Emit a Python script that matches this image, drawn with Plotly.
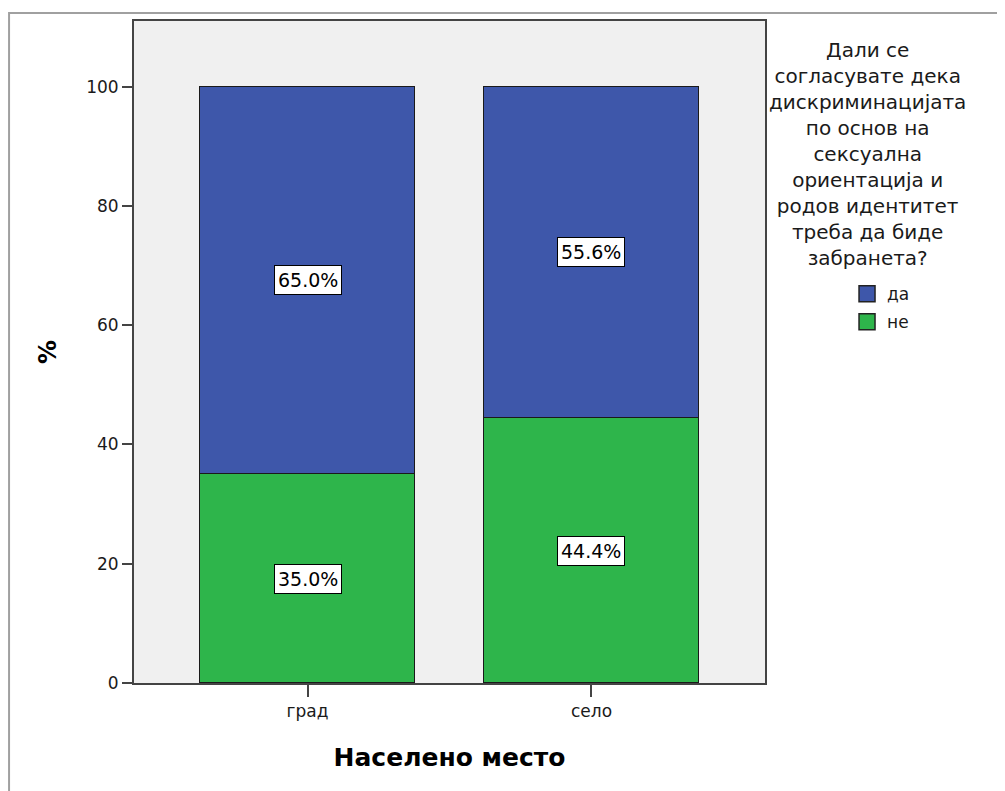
import plotly.graph_objects as go

categories = ["град", "село"]
series_names = ["да", "не"]
values_da = [65.0, 55.6]
values_ne = [35.0, 44.4]
y_ticks = [0, 20, 40, 60, 80, 100]
legend_title = ("Дали се<br>согласувате дека<br>дискриминацијата<br>по основ на<br>сексуална"
                "<br>ориентација и<br>родов идентитет<br>треба да биде<br>забранета?")
x_title = "Населено место"
y_title = "%"

BLUE = "#3e57aa"
GREEN = "#2eb54b"
FONT = "DejaVu Sans, Liberation Sans, Arial, sans-serif"
TXT = "#1a1a1a"

xpos = list(range(len(categories)))

fig = go.Figure()
fig.add_trace(go.Bar(x=xpos, y=values_ne, name=series_names[1],
                     marker=dict(color=GREEN, line=dict(color="#1a1a1a", width=1.2)),
                     width=0.757, showlegend=False))
fig.add_trace(go.Bar(x=xpos, y=values_da, name=series_names[0],
                     marker=dict(color=BLUE, line=dict(color="#1a1a1a", width=1.2)),
                     width=0.757, showlegend=False))

# legend entries
for name, col in [(series_names[0], BLUE), (series_names[1], GREEN)]:
    fig.add_trace(go.Scatter(x=[None], y=[None], mode="markers", name=name, legendgroup=name,
                             marker=dict(symbol="square", size=16, color=col,
                                         line=dict(color="#222", width=1.5))))

annotations = []
for i in range(len(categories)):
    ne = values_ne[i]
    da = values_da[i]
    for yv, v in [(ne / 2, ne), (ne + da / 2, da)]:
        annotations.append(dict(x=i, y=yv, xref="x", yref="y", text=f"{v:.1f}%", showarrow=False,
                                font=dict(family=FONT, size=19, color="black"), bgcolor="white",
                                bordercolor="black", borderwidth=1, borderpad=3))

annotations.append(dict(x=1.1624, y=0.978, xref="paper", yref="paper", text=legend_title, showarrow=False,
                        xanchor="center", yanchor="top", align="center",
                        font=dict(family=FONT, size=20, color=TXT)))

fig.update_layout(
    width=997, height=783,
    margin=dict(l=126, r=240, t=11, b=108),
    paper_bgcolor="white", plot_bgcolor="#f0f0f0",
    barmode="stack", bargap=0,
    font=dict(family=FONT, size=17, color=TXT),
    showlegend=True,
    legend=dict(x=1.130, y=0.6145, xanchor="left", yanchor="top", traceorder="grouped",
                tracegroupgap=3, font=dict(family=FONT, size=17, color=TXT),
                itemsizing="trace", bgcolor="rgba(0,0,0,0)"),
    annotations=annotations,
    shapes=[dict(type="rect", xref="paper", yref="paper", x0=-0.198, x1=1.45, y0=-0.3, y1=1.012,
                 line=dict(color="#a0a0a0", width=2), fillcolor="rgba(0,0,0,0)", layer="below")],
)
fig.update_xaxes(range=[-0.611, 1.611], tickvals=xpos, ticktext=categories, ticks="outside", ticklen=12,
                 tickcolor="#444", tickwidth=2, showline=True, linecolor="#444", linewidth=2, mirror=True,
                 showgrid=False, zeroline=False,
                 title=dict(text=f"<b>{x_title}</b>", font=dict(family=FONT, size=25, color="black"), standoff=28),
                 tickfont=dict(family=FONT, size=17, color=TXT))
fig.update_yaxes(range=[0, 111.0], tickvals=y_ticks, ticks="outside", ticklen=10, tickcolor="#444", tickwidth=2,
                 showline=True, linecolor="#444", linewidth=2, mirror=True, showgrid=False, zeroline=False,
                 title=dict(text=f"<b>{y_title}</b>", font=dict(family=FONT, size=24, color="black"), standoff=23),
                 tickfont=dict(family=FONT, size=17, color=TXT))

fig.write_html("out.html")
